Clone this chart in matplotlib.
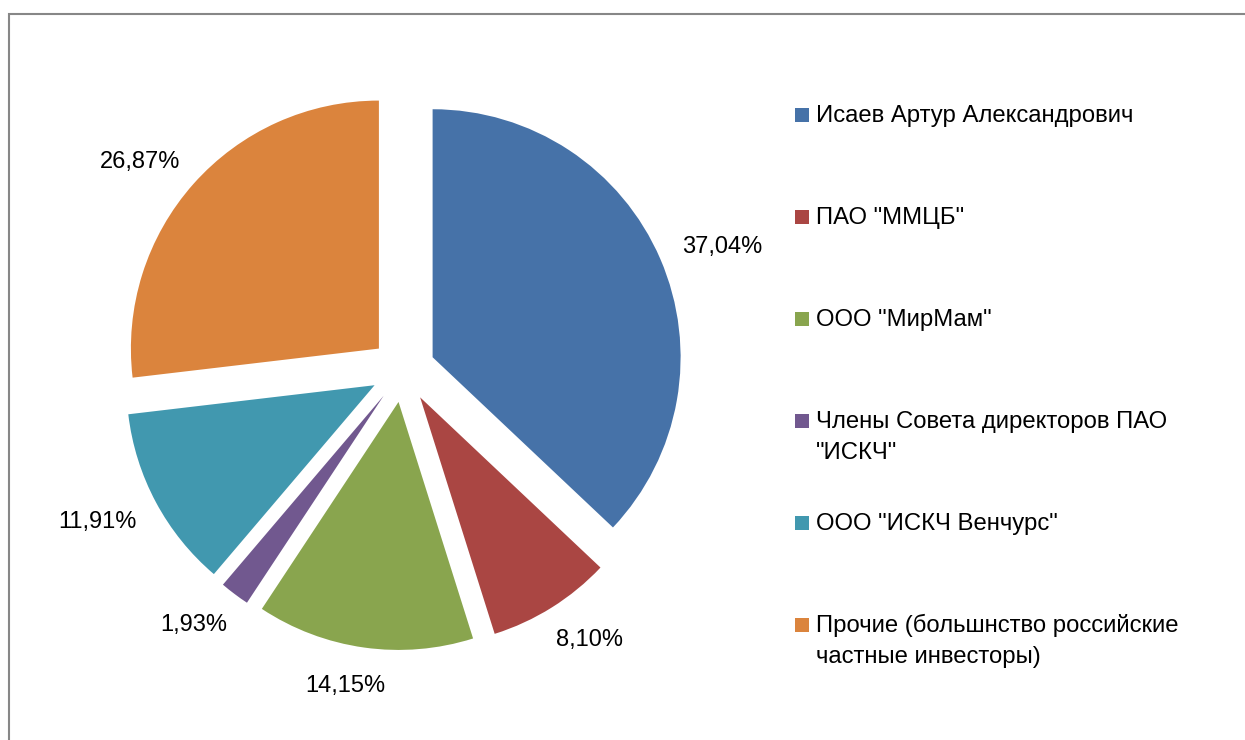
import matplotlib
matplotlib.use("Agg")
import matplotlib.pyplot as plt
from matplotlib.patches import Rectangle
import numpy as np

# ---- data ----
categories = ['Исаев Артур Александрович',
              'ПАО "ММЦБ"',
              'ООО "МирМам"',
              'Члены Совета директоров ПАО\n"ИСКЧ"',
              'ООО "ИСКЧ Венчурс"',
              'Прочие (большнство российские\nчастные инвесторы)']
shares = [37.04, 8.10, 14.15, 1.93, 11.91, 26.87]
pct_labels = ['37,04%', '8,10%', '14,15%', '1,93%', '11,91%', '26,87%']
colors = ['#4672A8', '#AA4643', '#89A54E', '#71588F', '#4198AF', '#DB843D']

plt.rcParams['font.family'] = ['Liberation Sans', 'DejaVu Sans']

W, H = 1245, 740
fig = plt.figure(figsize=(W / 100, H / 100), dpi=100)
fig.patch.set_facecolor('white')

# outer chart border (gray, partly off-canvas)
fig.add_artist(Rectangle((8.5 / W, -0.1), 1.2, 1.1 - 14 / H,
                         transform=fig.transFigure, fill=False,
                         edgecolor='#878787', linewidth=1.5))

# ---- pie ----
R_PX = 248.0
CX, CY = 403.0, 370.0       # pixel centre (from top-left)
L = 1.5
half = L * R_PX
ax = fig.add_axes([(CX - half) / W, (H - CY - half) / H, 2 * half / W, 2 * half / H])
wedges, _ = ax.pie(shares, explode=[0.13] * len(shares), startangle=90,
                   counterclock=False, colors=colors,
                   wedgeprops=dict(linewidth=0))
ax.set_xlim(-L, L)
ax.set_ylim(-L, L)
ax.set_aspect('equal')
ax.axis('off')

FS_LAB = 17.0
FS_LEG = 17.2
renderer = fig.canvas.get_renderer()
gap = 25.0 / R_PX
for w, lab in zip(wedges, pct_labels):
    th = np.radians((w.theta1 + w.theta2) / 2.0)
    c, s = np.cos(th), np.sin(th)
    t = ax.text(0, 0, lab, fontsize=FS_LAB, ha='center', va='center_baseline',
                color='black')
    bb = t.get_window_extent(renderer)
    wx = bb.width / R_PX / 2.0
    hy = bb.height / R_PX / 2.0
    x = w.center[0] + (w.r + gap) * c + wx * np.sign(c) * np.sqrt(abs(c))
    y = w.center[1] + (w.r + gap) * s + hy * s
    t.set_position((x, y))

# ---- legend (manual, first line aligned with marker) ----
base0, step, line_step = 122.0, 102.0, 31.0
for i, (cat, col) in enumerate(zip(categories, colors)):
    b = base0 + i * step
    fig.add_artist(Rectangle((795 / W, 1 - b / H), 14 / W, 14 / H,
                             transform=fig.transFigure, facecolor=col,
                             edgecolor='none'))
    for k, line in enumerate(cat.split('\n')):
        fig.text(816 / W, 1 - (b + k * line_step) / H, line, fontsize=FS_LEG,
                 ha='left', va='baseline', color='black')

fig.savefig('out.png', dpi=100, facecolor='white')
